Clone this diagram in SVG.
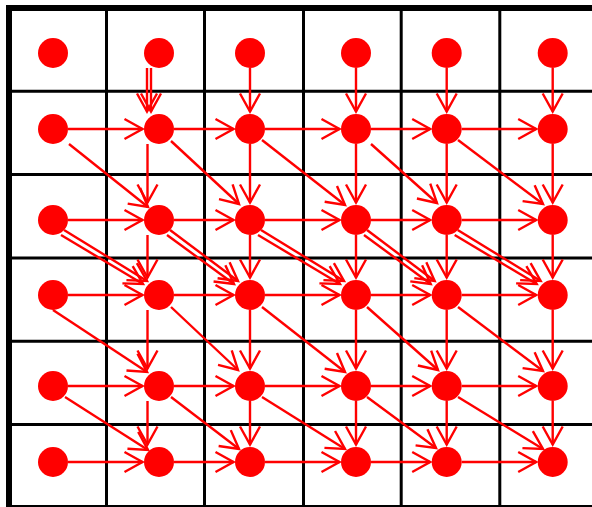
<svg xmlns="http://www.w3.org/2000/svg" width="592" height="507" viewBox="0 0 592 507">
<style>
.g{stroke:#000;stroke-width:3;fill:none}
.b{stroke:#000;stroke-width:6;fill:none}
.e line{stroke:#f00;stroke-width:2.4;marker-end:url(#ah)}
.n{fill:#f00}
</style>
<defs>
<marker id="ah" markerUnits="userSpaceOnUse" viewBox="-20 -12 24 24" markerWidth="24" markerHeight="24" refX="0" refY="0" orient="auto" overflow="visible">
<path d="M-18,-10 L0,0 L-18,10" fill="none" stroke="#f00" stroke-width="2.4"/>
</marker>
</defs>
<rect width="592" height="507" fill="#fff"/>
<g id="grid">
<path class="g" d="M106.5,8V508M204.5,8V508M303.5,8V508M401.2,8V508M499.8,8V508M9,91.3H600M9,174.6H600M9,258H600M9,341.3H600M9,424.6H600"/>
<rect class="b" x="9" y="8" width="590" height="500"/>
</g>
<g id="connectors" class="e">
<line x1="68" y1="129" x2="142.5" y2="129"/><line x1="174" y1="129" x2="233.5" y2="129"/><line x1="265" y1="129" x2="339.5" y2="129"/><line x1="371" y1="129" x2="430.2" y2="129"/><line x1="461.7" y1="129" x2="536.2" y2="129"/>
<line x1="68" y1="220" x2="142.5" y2="220"/><line x1="174" y1="220" x2="233.5" y2="220"/><line x1="265" y1="220" x2="339.5" y2="220"/><line x1="371" y1="220" x2="430.2" y2="220"/><line x1="461.7" y1="220" x2="536.2" y2="220"/>
<line x1="68" y1="295" x2="142.5" y2="295"/><line x1="174" y1="295" x2="233.5" y2="295"/><line x1="265" y1="295" x2="339.5" y2="295"/><line x1="371" y1="295" x2="430.2" y2="295"/><line x1="461.7" y1="295" x2="536.2" y2="295"/>
<line x1="68" y1="386" x2="142.5" y2="386"/><line x1="174" y1="386" x2="233.5" y2="386"/><line x1="265" y1="386" x2="339.5" y2="386"/><line x1="371" y1="386" x2="430.2" y2="386"/><line x1="461.7" y1="386" x2="536.2" y2="386"/>
<line x1="68" y1="462" x2="142.5" y2="462"/><line x1="174" y1="462" x2="233.5" y2="462"/><line x1="265" y1="462" x2="339.5" y2="462"/><line x1="371" y1="462" x2="430.2" y2="462"/><line x1="461.7" y1="462" x2="536.2" y2="462"/>
<line x1="147" y1="68" x2="147" y2="111.5"/><line x1="151" y1="68" x2="151" y2="111.5"/>
<line x1="147.5" y1="144" x2="147.5" y2="202.5"/><line x1="147.5" y1="235" x2="147.5" y2="277.5"/>
<line x1="147.5" y1="310" x2="147.5" y2="368.5"/><line x1="147.5" y1="401" x2="147.5" y2="444.5"/>
<line x1="250" y1="68" x2="250" y2="111.5"/><line x1="250" y1="144" x2="250" y2="202.5"/><line x1="250" y1="235" x2="250" y2="277.5"/><line x1="250" y1="310" x2="250" y2="368.5"/><line x1="250" y1="401" x2="250" y2="444.5"/>
<line x1="356" y1="68" x2="356" y2="111.5"/><line x1="356" y1="144" x2="356" y2="202.5"/><line x1="356" y1="235" x2="356" y2="277.5"/><line x1="356" y1="310" x2="356" y2="368.5"/><line x1="356" y1="401" x2="356" y2="444.5"/>
<line x1="446.7" y1="68" x2="446.7" y2="111.5"/><line x1="446.7" y1="144" x2="446.7" y2="202.5"/><line x1="446.7" y1="235" x2="446.7" y2="277.5"/><line x1="446.7" y1="310" x2="446.7" y2="368.5"/><line x1="446.7" y1="401" x2="446.7" y2="444.5"/>
<line x1="552.7" y1="68" x2="552.7" y2="111.5"/><line x1="552.7" y1="144" x2="552.7" y2="202.5"/><line x1="552.7" y1="235" x2="552.7" y2="277.5"/><line x1="552.7" y1="310" x2="552.7" y2="368.5"/><line x1="552.7" y1="401" x2="552.7" y2="444.5"/>
<line x1="69" y1="144" x2="148" y2="207"/><line x1="171" y1="141" x2="239" y2="204"/><line x1="262" y1="140" x2="345" y2="205"/><line x1="371" y1="144" x2="437" y2="203"/><line x1="458" y1="140" x2="543" y2="204"/>
<line x1="64" y1="230" x2="147" y2="281"/><line x1="61" y1="235" x2="143" y2="284"/>
<line x1="170" y1="230" x2="238" y2="281"/><line x1="167" y1="235" x2="234" y2="284"/>
<line x1="261" y1="230" x2="344" y2="281"/><line x1="258" y1="235" x2="340" y2="284"/>
<line x1="367" y1="230" x2="434.7" y2="281"/><line x1="364" y1="235" x2="430.7" y2="284"/>
<line x1="457.7" y1="230" x2="540.7" y2="281"/><line x1="454.7" y1="235" x2="536.7" y2="284"/>
<line x1="53" y1="310" x2="147" y2="372"/><line x1="171" y1="307" x2="238" y2="370"/><line x1="262" y1="307" x2="345" y2="372"/><line x1="367" y1="307" x2="438" y2="370"/><line x1="458" y1="307" x2="543" y2="371"/>
<line x1="65" y1="397" x2="148" y2="450"/><line x1="171" y1="397" x2="239" y2="449"/><line x1="262" y1="397" x2="345" y2="449"/><line x1="367" y1="397" x2="436" y2="448"/><line x1="458" y1="397" x2="543" y2="449"/>
</g>
<g id="nodes" class="n">
<g id="n00"><circle cx="53" cy="53" r="15"/></g><g id="n10"><circle cx="159" cy="53" r="15"/></g><g id="n20"><circle cx="250" cy="53" r="15"/></g><g id="n30"><circle cx="356" cy="53" r="15"/></g><g id="n40"><circle cx="446.7" cy="53" r="15"/></g><g id="n50"><circle cx="552.7" cy="53" r="15"/></g>
<g id="n01"><circle cx="53" cy="129" r="15"/></g><g id="n11"><circle cx="159" cy="129" r="15"/></g><g id="n21"><circle cx="250" cy="129" r="15"/></g><g id="n31"><circle cx="356" cy="129" r="15"/></g><g id="n41"><circle cx="446.7" cy="129" r="15"/></g><g id="n51"><circle cx="552.7" cy="129" r="15"/></g>
<g id="n02"><circle cx="53" cy="220" r="15"/></g><g id="n12"><circle cx="159" cy="220" r="15"/></g><g id="n22"><circle cx="250" cy="220" r="15"/></g><g id="n32"><circle cx="356" cy="220" r="15"/></g><g id="n42"><circle cx="446.7" cy="220" r="15"/></g><g id="n52"><circle cx="552.7" cy="220" r="15"/></g>
<g id="n03"><circle cx="53" cy="295" r="15"/></g><g id="n13"><circle cx="159" cy="295" r="15"/></g><g id="n23"><circle cx="250" cy="295" r="15"/></g><g id="n33"><circle cx="356" cy="295" r="15"/></g><g id="n43"><circle cx="446.7" cy="295" r="15"/></g><g id="n53"><circle cx="552.7" cy="295" r="15"/></g>
<g id="n04"><circle cx="53" cy="386" r="15"/></g><g id="n14"><circle cx="159" cy="386" r="15"/></g><g id="n24"><circle cx="250" cy="386" r="15"/></g><g id="n34"><circle cx="356" cy="386" r="15"/></g><g id="n44"><circle cx="446.7" cy="386" r="15"/></g><g id="n54"><circle cx="552.7" cy="386" r="15"/></g>
<g id="n05"><circle cx="53" cy="462" r="15"/></g><g id="n15"><circle cx="159" cy="462" r="15"/></g><g id="n25"><circle cx="250" cy="462" r="15"/></g><g id="n35"><circle cx="356" cy="462" r="15"/></g><g id="n45"><circle cx="446.7" cy="462" r="15"/></g><g id="n55"><circle cx="552.7" cy="462" r="15"/></g>
</g>
</svg>
